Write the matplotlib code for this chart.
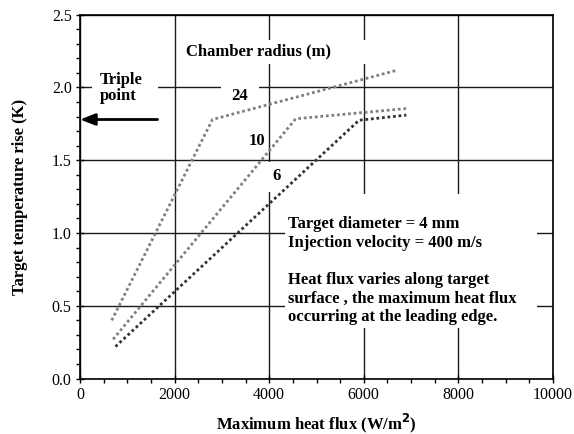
import matplotlib
matplotlib.use("Agg")
import matplotlib.pyplot as plt
from matplotlib.patches import Rectangle
from matplotlib.ticker import MultipleLocator

plt.rcParams['font.family'] = ['Liberation Serif', 'DejaVu Serif']

# Data
r24_x = [670, 2800, 6720]
r24_y = [0.40, 1.78, 2.12]
r10_x = [700, 4560, 6950]
r10_y = [0.27, 1.785, 1.857]
r6_x = [750, 5900, 6900]
r6_y = [0.22, 1.775, 1.81]

labels = ["24", "10", "6"]
label_pos_x = [3380, 3745, 4154]
label_pos_y = [1.94, 1.633, 1.392]

xticks = [0, 2000, 4000, 6000, 8000, 10000]
yticks = [0.0, 0.5, 1.0, 1.5, 2.0, 2.5]
triple_point = 1.78

fig = plt.figure(figsize=(5.74, 4.34), dpi=100)
ax = fig.add_axes([80/574, 1-378.6/434, (553-80)/574, (378.6-14.7)/434])
ax.set_xlim(0, 10000)
ax.set_ylim(0, 2.5)
ax.set_xticks(xticks)
ax.set_yticks(yticks)
ax.set_xticklabels([str(v) for v in xticks])
ax.set_yticklabels([f"{v:.1f}" for v in yticks])
ax.xaxis.set_minor_locator(MultipleLocator(500))
ax.yaxis.set_minor_locator(MultipleLocator(0.1))
ax.tick_params(which='major', direction='inout', length=6, width=1, labelsize=11.5, pad=3)
ax.tick_params(which='minor', direction='out', length=3, width=1)
for s in ax.spines.values():
    s.set_linewidth(1.2)
    s.set_zorder(6)
ax.grid(True, which='major', color='#1a1a1a', lw=1.0, zorder=0)
ax.set_axisbelow(True)

# white masks behind annotations
masks = [(4330, 0.348, 9652-4330, 1.269-0.348),
         (2110, 2.162, 6150-2110, 2.327-2.162),
         (250, 1.88, 1640-250, 2.12-1.88),
         (2990, 1.89, 3790-2990, 2.08-1.89),
         (3950, 1.28, 4400-3950, 1.49-1.28)]
for (mx, my, mw, mh) in masks:
    ax.add_patch(Rectangle((mx, my), mw, mh, facecolor='white', edgecolor='none', zorder=1))

ax.plot(r24_x, r24_y, color='#808080', lw=2, ls=(0, (1, 1)), zorder=3)
ax.plot(r10_x, r10_y, color='#808080', lw=2, ls=(0, (1, 1)), zorder=3)
ax.plot(r6_x, r6_y, color='#333333', lw=2, ls=(0, (1, 1)), zorder=3)

for t, lx, ly in zip(labels, label_pos_x, label_pos_y):
    ax.text(lx, ly, t, ha='center', va='center', fontsize=12, fontweight='bold', zorder=4)

ax.text(3774, 2.247, "Chamber radius (m)", ha='center', va='center', fontsize=12,
        fontweight='bold', zorder=4)
ax.text(422, 1.997, "Triple\npoint", ha='left', va='center', fontsize=12,
        fontweight='bold', linespacing=1.0, zorder=4)
ax.annotate("", xy=(0, triple_point), xytext=(1640, triple_point),
            arrowprops=dict(arrowstyle='-|>,head_length=0.9,head_width=0.35', color='black', lw=2,
                            shrinkA=0, shrinkB=0), zorder=5)

lines = ["Target diameter = 4 mm", "Injection velocity = 400 m/s", "",
         "Heat flux varies along target", "surface , the maximum heat flux",
         "occurring at the leading edge."]
for i, ln in enumerate(lines):
    if ln:
        ax.annotate(ln, xy=(4393, 1.062), xytext=(0, -i*13.4), textcoords='offset points',
                    ha='left', va='center', fontsize=12, fontweight='bold', zorder=4)

ax.set_xlabel("Maximum heat flux (W/m$^\\mathbf{2}$)", fontsize=12, fontweight='bold', labelpad=6)
ax.set_ylabel("Target temperature rise (K)", fontsize=12, fontweight='bold', labelpad=17)

fig.savefig("out.png", dpi=100)
